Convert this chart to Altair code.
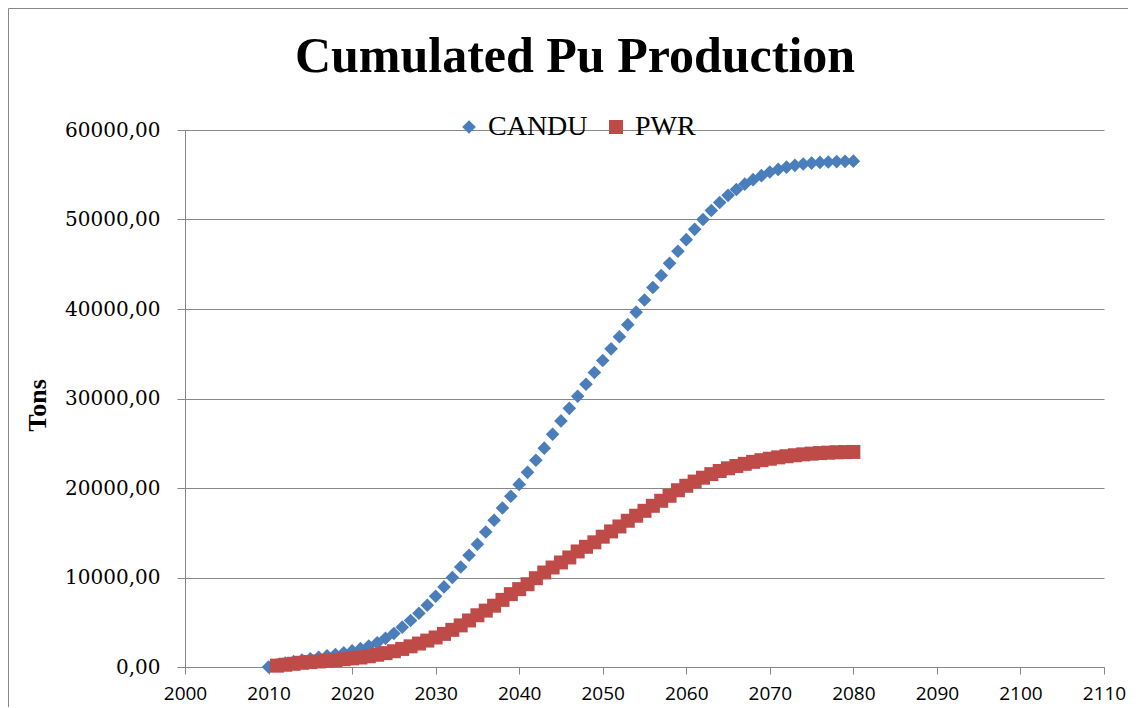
import altair as alt
import pandas as pd

title_text = "Cumulated Pu Production"
series_names = ["CANDU", "PWR"]
series_colors = ["#4A7EBB", "#BE4B48"]
series_shapes = ["diamond", "square"]
series_sizes = [185, 196]

candu_years = list(range(2010, 2081))
candu_tons = [
    0, 250, 450, 620, 780, 920, 1080, 1250, 1400, 1580,
    1800, 2050, 2350, 2700, 3200, 3750, 4450, 5200, 6000, 6900,
    7900, 8950, 10000, 11170, 12480, 13710, 15080, 16390, 17770, 19070,
    20400, 21750, 23100, 24450, 26000, 27500, 28900, 30250, 31600, 32900,
    34250, 35550, 36900, 38250, 39650, 41000, 42400, 43750, 45100, 46450,
    47750, 48900, 50000, 51000, 51900, 52700, 53350, 53950, 54450, 54900,
    55300, 55600, 55850, 56050, 56200, 56300, 56380, 56430, 56470, 56500,
    56520,
]

pwr_years = list(range(2011, 2081))
pwr_tons = [
    150, 250, 360, 470, 550, 620, 700, 770, 870,
    960, 1060, 1200, 1370, 1550, 1760, 2020, 2310, 2620, 2950,
    3300, 3700, 4150, 4650, 5200, 5780, 6300, 6850, 7500, 8140,
    8700, 9250, 9920, 10560, 11120, 11680, 12240, 12910, 13430, 13930,
    14560, 15150, 15700, 16340, 16900, 17450, 18010, 18570, 19130, 19750,
    20250, 20720, 21150, 21550, 21900, 22200, 22460, 22700, 22920, 23110,
    23270, 23420, 23550, 23660, 23760, 23840, 23900, 23950, 23990, 24010,
    24030,
]

x_ticks = [2000, 2010, 2020, 2030, 2040, 2050, 2060, 2070, 2080, 2090, 2100, 2110]
y_ticks = [0, 10000, 20000, 30000, 40000, 50000, 60000]

df = pd.DataFrame({
    "year": candu_years + pwr_years,
    "tons": candu_tons + pwr_tons,
    "reactor": ["CANDU"] * len(candu_years) + ["PWR"] * len(pwr_years),
})

GRAY = "#878787"

legend = alt.Legend(
    title=None, orient="none", legendX=270, legendY=-17, direction="horizontal",
    labelFont="Liberation Serif", labelFontSize=28, labelColor="black",
    symbolSize=185, symbolStrokeWidth=0, labelOffset=5, columnPadding=14,
    padding=0, symbolOpacity=1,
)

points = alt.Chart(df).mark_point(filled=True, opacity=1, strokeWidth=0).encode(
    x=alt.X("year:Q",
            scale=alt.Scale(domain=[2000, 2110], nice=False, zero=False),
            axis=alt.Axis(values=x_ticks, format="d", title=None, grid=False,
                          labelFont="Open Sans", labelFontSize=19, labelColor="black",
                          tickSize=7, labelPadding=10, domainColor=GRAY, tickColor=GRAY,
                          labelFlush=False)),
    y=alt.Y("tons:Q",
            scale=alt.Scale(domain=[0, 60000], nice=False),
            axis=alt.Axis(values=y_ticks,
                          labelExpr="replace(format(datum.value, '.2f'), '.', ',')",
                          title="Tons", titleFont="Liberation Serif", titleFontSize=26,
                          titleFontWeight="bold", titleColor="black", titleAngle=270,
                          titleX=-148, titleY=275, titleAlign="center",
                          titleBaseline="middle",
                          labelFont="DejaVu Serif", labelFontSize=20, labelColor="black",
                          tickSize=8, labelPadding=17, domainColor=GRAY, tickColor=GRAY,
                          grid=True, gridColor=GRAY, gridWidth=1)),
    color=alt.Color("reactor:N", scale=alt.Scale(domain=series_names, range=series_colors),
                    legend=legend),
    shape=alt.Shape("reactor:N", scale=alt.Scale(domain=series_names, range=series_shapes),
                    legend=legend),
    size=alt.Size("reactor:N", scale=alt.Scale(domain=series_names, range=series_sizes),
                  legend=None),
)

title = alt.Chart(pd.DataFrame({"t": [title_text]})).mark_text(
    font="Liberation Serif", fontSize=50, fontWeight="bold", color="black",
    align="center", baseline="alphabetic",
).encode(text="t:N", x=alt.value(390), y=alt.value(-58))

frame_df = pd.DataFrame({"a": [0]})
frame_left = alt.Chart(frame_df).mark_rule(color=GRAY, strokeWidth=1).encode(
    x=alt.value(-176.5), y=alt.value(-121.5), y2=alt.value(590))
frame_top = alt.Chart(frame_df).mark_rule(color=GRAY, strokeWidth=1).encode(
    x=alt.value(-176.5), x2=alt.value(960), y=alt.value(-121.5))

chart = alt.layer(frame_left, frame_top, points, title).properties(
    width=919, height=537,
    autosize=alt.AutoSizeParams(type="none"),
    padding={"left": 177, "top": 122, "right": 24, "bottom": 40},
    background="white",
).configure_view(stroke=None)

chart.save("out.html", embed_options={"renderer": "svg", "actions": False})
